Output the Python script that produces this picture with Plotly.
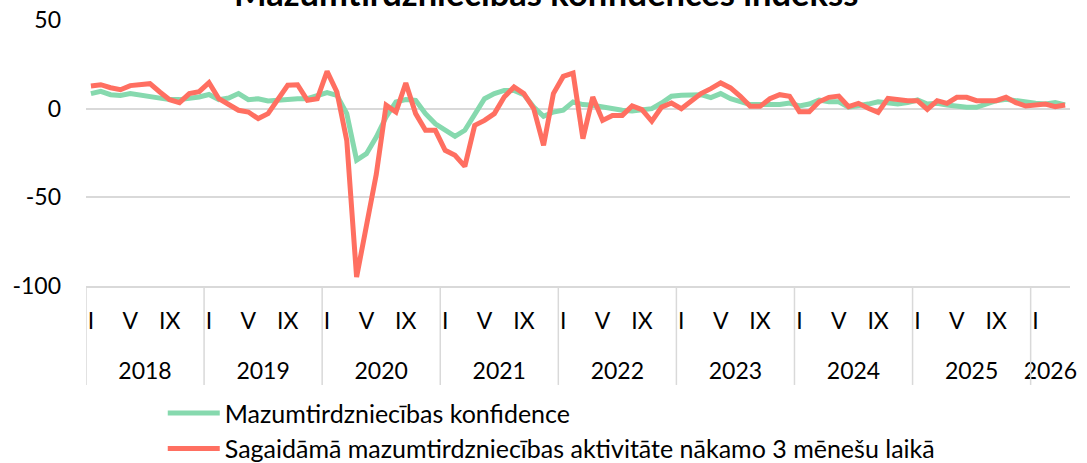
import plotly.graph_objects as go

# ---- data -------------------------------------------------------------
year_labels = ["2018", "2019", "2020", "2021", "2022", "2023", "2024", "2025", "2026"]
months_per_year = [12, 12, 12, 12, 12, 12, 12, 12, 4]
roman = ["I", "II", "III", "IV", "V", "VI", "VII", "VIII", "IX", "X", "XI", "XII"]
shown_months = ["I", "V", "IX"]

confidence = [
    8.5, 9.8, 7.9, 7.5, 8.5, 7.7, 7.1, 6.6, 5.1, 5.1, 5.6, 6.6,
    8.0, 5.1, 6.0, 8.5, 5.1, 5.6, 4.3, 4.7, 5.6, 5.6, 5.6, 7.0,
    9.0, 7.5, -2.8, -29.0, -25.4, -16.0, -4.7, 3.8, 5.1, 4.7, -2.8, -8.5,
    -12.2, -15.6, -12.2, -2.8, 5.6, 8.5, 10.3, 10.3, 7.9, 0.9, -4.3, -1.9,
    -0.9, 3.8, 2.3, 1.9, 0.9, 0.4, -0.9, -1.3, -0.9, 0.0, 3.2, 7.0,
    7.5, 7.5, 7.9, 6.2, 8.5, 5.6, 3.8, 2.3, 2.3, 2.3, 2.3, 3.2,
    1.5, 2.6, 4.9, 3.9, 3.9, 0.8, 1.5, 2.6, 3.9, 3.0, 2.6, 3.4,
    4.9, 2.6, 3.0, 2.1, 1.1, 0.8, 0.8, 3.0, 4.5, 5.3, 4.5, 3.4,
    3.0, 2.6, 3.4, 2.1,
]
expected_activity = [
    12.8, 13.5, 11.8, 10.7, 13.0, 13.3, 14.1, 9.4, 5.1, 3.4, 8.5, 9.6,
    14.7, 5.6, 2.4, -0.9, -1.9, -5.6, -2.8, 5.6, 13.2, 13.5, 4.7, 5.6,
    21.0, 9.4, -17.9, -95.0, -65.0, -37.0, 2.0, -1.9, 14.5, -2.8, -12.2, -12.2,
    -23.5, -26.3, -32.5, -9.4, -6.6, -2.8, 6.6, 12.2, 8.5, 0.0, -20.7, 8.5,
    18.2, 20.1, -16.9, 6.6, -6.6, -3.8, -3.8, 1.5, -0.6, -7.1, 0.9, 3.2,
    0.0, 4.1, 8.5, 11.3, 14.5, 11.7, 7.0, 1.3, 1.3, 5.6, 7.9, 7.0,
    -1.7, -1.7, 3.9, 6.4, 7.1, 1.1, 3.0, 0.2, -2.1, 5.8, 4.9, 4.5,
    4.5, -0.4, 4.5, 3.0, 6.4, 6.4, 4.5, 4.5, 4.5, 6.4, 3.4, 1.5,
    2.1, 2.6, 1.1, 2.1,
]

name_conf = "Mazumtirdzniecības konfidence"
name_exp = "Sagaidāmā mazumtirdzniecības aktivitāte nākamo 3 mēnešu laikā"
title_text = "Mazumtirdzniecības konfidences indekss"

# ---- categories ---------------------------------------------------------
month_ids, tick_ids, tick_txt = [], [], []
year_start, year_center = [], []
pos = 0
for y, n in zip(year_labels, months_per_year):
    year_start.append(pos - 0.5)
    year_center.append(pos + (n - 1) / 2)
    for m in range(n):
        cid = f"{y}-{roman[m]}"
        month_ids.append(cid)
        if roman[m] in shown_months:
            tick_ids.append(cid)
            tick_txt.append(roman[m])
    pos += n
x_range = [-0.5, len(month_ids) - 0.5]

FONT = "Lato"
GREEN = "#86D9AE"
RED = "#FF6F61"
GRID = "#D9D9D9"

fig = go.Figure()
fig.add_trace(go.Scatter(x=month_ids, y=confidence, mode="lines",
                         name=name_conf, line=dict(color=GREEN, width=5)))
fig.add_trace(go.Scatter(x=month_ids, y=expected_activity, mode="lines",
                         name=name_exp, line=dict(color=RED, width=5)))

# year dividers below the axis, at the year boundaries
shapes = [dict(type="line", xref="x2", yref="paper", x0=s, x1=s, y0=0, y1=-0.372,
               line=dict(color=GRID, width=1.5)) for s in year_start]

fig.update_layout(
    width=1087, height=463,
    margin=dict(l=86, r=17, t=20, b=177, autoexpand=False),
    paper_bgcolor="white", plot_bgcolor="white",
    font=dict(family=FONT, size=23, color="#000000"),
    showlegend=True,
    legend=dict(orientation="v", x=0.078, xanchor="left", y=-0.392, yanchor="top",
                font=dict(family=FONT, size=25), itemwidth=52,
                bgcolor="rgba(0,0,0,0)", tracegroupgap=0),
    shapes=shapes,
    annotations=[dict(text="<b>" + title_text + "</b>", xref="paper", yref="paper",
                      x=0.467, y=1.105, xanchor="center", yanchor="middle",
                      showarrow=False, font=dict(family=FONT, size=34.5, color="#000000"))],
    xaxis=dict(
        type="category", range=x_range, tickmode="array", tickvals=tick_ids,
        ticktext=tick_txt, tickangle=0, showgrid=False, showline=True,
        linecolor=GRID, linewidth=1.5, ticks="", ticklabelstandoff=14,
        tickfont=dict(family=FONT, size=23), automargin=False,
    ),
    xaxis2=dict(
        overlaying="x", anchor="y", side="bottom", type="linear", range=x_range,
        tickmode="array", tickvals=year_center, ticktext=year_labels, tickangle=0,
        showgrid=False, showline=False, zeroline=False, ticks="",
        ticklabelstandoff=69, tickfont=dict(family=FONT, size=23), automargin=False,
    ),
    yaxis=dict(
        range=[-100, 50], tickvals=[-100, -50, 0, 50], ticktext=["-100", "-50", "0", "50"],
        showgrid=True, gridcolor=GRID, gridwidth=1.5, zeroline=False,
        showline=False, ticks="", ticklabelstandoff=24, automargin=False,
        tickfont=dict(family=FONT, size=23),
    ),
)

fig.write_html("out.html", config={"displayModeBar": False},
               post_script="document.body.style.margin='0px';document.body.style.overflow='hidden';")
